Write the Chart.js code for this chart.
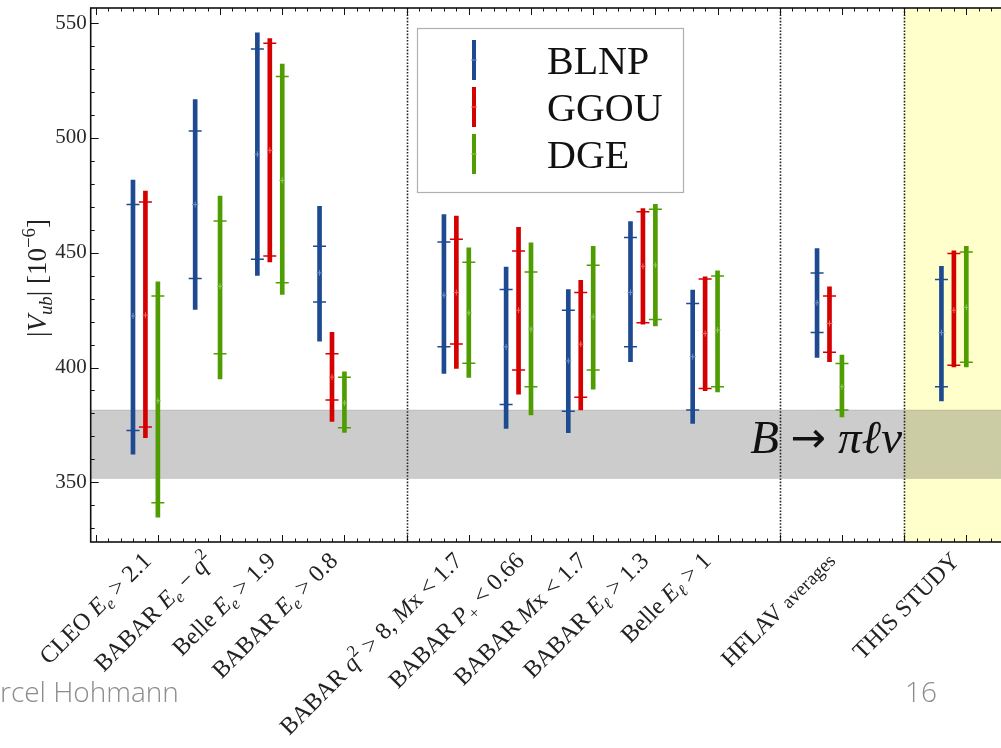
<!DOCTYPE html>
<html>
<head>
<meta charset="utf-8">
<title>|Vub| inclusive determinations</title>
<script src="https://cdn.jsdelivr.net/npm/chart.js@4.4.1/dist/chart.umd.min.js"></script>
<style>
  html, body { margin: 0; padding: 0; background: #fff; overflow: hidden; }
  #wrap { position: relative; width: 1040px; height: 748px; }
</style>
</head>
<body>
<div id="wrap"><canvas id="chart"></canvas></div>
<script>
// measurement names (TeX-ish markup, rendered by drawRich below)
const categories = [
  'CLEO $E_e>2.1$',
  'BABAR $E_e-q^2$',
  'Belle $E_e>1.9$',
  'BABAR $E_e>0.8$',
  'BABAR $q^2>8, M$x$<1.7$',
  'BABAR $P_+<0.66$',
  'BABAR $M$x$<1.7$',
  'BABAR $E_\\ell>1.3$',
  'Belle $E_\\ell>1$',
  'HFLAV \\small averages',
  'THIS STUDY'
];
// slot of each measurement on the x axis, and the group separators
const slots = [1, 2, 3, 4, 6, 7, 8, 9, 10, 12, 14];
const separators = [5, 11, 13];
const studyFrom = 13;

const methods = ['BLNP', 'GGOU', 'DGE'];

// |Vub| x 1e-6 : central value, inner error range, total error range
const blnpCentral = [422.5, 471.0, 492.9, 441.2, 431.5, 409.0, 402.9, 432.7, 404.7, 428.2, 415.2];
const blnpInner = [[372.6, 471.0], [438.8, 503.0], [447.2, 538.7], [428.5, 452.8], [409.0, 454.7], [383.9, 434.0], [381.0, 425.0], [409.0, 456.6], [381.5, 427.9], [415.2, 441.2], [391.6, 438.3]];
const blnpTotal = [[362.3, 481.6], [425.3, 516.7], [440.1, 545.8], [411.5, 470.2], [397.4, 466.6], [373.5, 443.8], [371.6, 434.0], [402.5, 463.6], [375.7, 433.7], [404.4, 451.8], [385.5, 444.1]];

const ggouCentral = [422.8, null, 494.6, 395.8, 432.7, 425.0, 410.2, 444.1, 414.8, 419.2, 425.0];
const ggouInner = [[374.1, 472.1], null, [448.6, 541.2], [385.8, 406.0], [410.2, 455.9], [398.9, 450.7], [387.0, 432.7], [419.5, 467.8], [390.9, 438.6], [406.7, 431.1], [401.0, 449.7]];
const ggouTotal = [[369.4, 476.8], null, [446.0, 543.3], [376.5, 415.3], [399.6, 466.0], [388.4, 461.1], [381.5, 438.0], [418.9, 469.2], [389.9, 439.5], [402.5, 435.1], [400.3, 450.8]];

const dgeCentral = [385.5, 435.4, 481.5, 384.6, 423.8, 416.7, 422.1, 444.6, 416.3, 391.6, 426.2];
const dgeInner = [[341.1, 431.2], [406.0, 463.8], [436.9, 526.8], [373.8, 395.8], [401.9, 445.9], [391.6, 441.6], [398.9, 444.6], [420.9, 468.9], [391.6, 439.9], [381.5, 401.8], [402.3, 450.3]];
const dgeTotal = [[334.8, 437.3], [395.0, 474.7], [431.8, 532.2], [371.7, 398.1], [395.7, 452.1], [379.3, 454.3], [390.6, 452.8], [418.1, 471.1], [389.4, 442.1], [378.5, 405.4], [400.3, 452.8]];

// exclusive B -> pi l nu band
const bandLow = 351.7;
const bandHigh = 381.5;

const centrals = [blnpCentral, ggouCentral, dgeCentral];
const inners = [blnpInner, ggouInner, dgeInner];
const totals = [blnpTotal, ggouTotal, dgeTotal];

const colors = ['#1d4a91', '#d50000', '#4f9d00'];
const markColors = ['#7590bd', '#e86a6a', '#93c65e'];
const offsets = [-0.4, -0.2, 0];

const SERIF = '"Liberation Serif", "DejaVu Serif", serif';

// tiny TeX-like parser: $..$ is math, _ and ^ for sub/superscripts
const commands = { ell: 'ℓ', pi: 'π', nu: 'ν', to: '→' };
function parseMath(s, out, pos) {
  let i = 0;
  while (i < s.length) {
    const c = s[i];
    if (c === ' ') { i++; continue; }
    if (c === '_' || c === '^') {
      i++;
      let arg;
      if (s[i] === '{') { const j = s.indexOf('}', i); arg = s.slice(i + 1, j); i = j + 1; }
      else if (s[i] === '\\') { const m = s.slice(i).match(/^\\[a-z]+/); arg = m[0]; i += arg.length; }
      else { arg = s[i]; i++; }
      parseMath(arg, out, c === '_' ? 'sub' : 'sup');
      continue;
    }
    if (c === '\\') {
      const m = s.slice(i + 1).match(/^[a-z]+/)[0];
      const t = commands[m] || m;
      if (m === 'to') {
        out.push({ t: ' ', pos }, { t, pos, family: '"DejaVu Sans", sans-serif', scale: 0.9 }, { t: ' ', pos });
      } else {
        out.push({ t, it: true, pos });
      }
      i += m.length + 1;
      continue;
    }
    if (/[A-Za-z]/.test(c)) out.push({ t: c, it: true, pos });
    else if ('<>='.includes(c)) out.push({ t: pos === 'base' ? ' ' + c + ' ' : c, pos });
    else if (c === '-') out.push({ t: pos === 'base' ? ' − ' : '−', pos });
    else if (c === ',') out.push({ t: ', ', pos });
    else out.push({ t: c, pos });
    i++;
  }
}
function parseLabel(src) {
  const out = [];
  src.split('$').forEach((p, k) => {
    if (k % 2 === 1) { parseMath(p, out, 'base'); return; }
    const s = p.indexOf('\\small ');
    if (s >= 0) {
      if (s > 0) out.push({ t: p.slice(0, s), pos: 'base' });
      out.push({ t: p.slice(s + 7), pos: 'base', scale: 0.8 });
    } else if (p) out.push({ t: p, pos: 'base' });
  });
  return out;
}
function segFont(seg, size) {
  let px = size * (seg.scale || 1);
  if (seg.pos !== 'base') px *= 0.7;
  return (seg.it ? 'italic ' : '') + px.toFixed(1) + 'px ' + (seg.family || SERIF);
}
function drawRich(ctx, src, x, y, size, align, angle, color) {
  const segs = parseLabel(src);
  let total = 0;
  segs.forEach(seg => {
    seg.f = segFont(seg, size);
    ctx.font = seg.f;
    seg.w = ctx.measureText(seg.t).width;
    total += seg.w;
  });
  ctx.save();
  ctx.translate(x, y);
  ctx.rotate(angle);
  ctx.fillStyle = color;
  ctx.textBaseline = 'alphabetic';
  ctx.textAlign = 'left';
  let cx = align === 'right' ? -total : align === 'center' ? -total / 2 : 0;
  segs.forEach(seg => {
    let dy = seg.pos === 'sub' ? size * 0.22 : seg.pos === 'sup' ? -size * 0.42 : 0;
    if (seg.family) dy -= size * 0.02;
    ctx.font = seg.f;
    ctx.fillText(seg.t, cx, dy);
    cx += seg.w;
  });
  ctx.restore();
}

// datasets: thick bar for total range, ticks for inner range, faint mark at centre
const datasets = [];
methods.forEach((name, m) => {
  const bars = [], ticks = [], marks = [];
  slots.forEach((s, i) => {
    if (totals[m][i] == null) return;
    const x = s + offsets[m];
    bars.push({ x, y: totals[m][i] });
    ticks.push({ x, y: inners[m][i][0] }, { x, y: inners[m][i][1] });
    marks.push({ x, y: centrals[m][i] });
  });
  datasets.push({
    type: 'bar', label: name, data: bars, backgroundColor: colors[m],
    barThickness: 4, grouped: false, borderWidth: 0, order: 3
  });
  datasets.push({
    type: 'scatter', label: name + ' inner', data: ticks, pointStyle: 'line',
    radius: 6.5, borderWidth: 1.5, borderColor: colors[m], order: 2
  });
  datasets.push({
    type: 'scatter', label: name + ' central', data: marks, pointStyle: 'cross',
    radius: 3, borderWidth: 1, borderColor: markColors[m], order: 1
  });
});

const decor = {
  id: 'decor',
  beforeDatasetsDraw(chart) {
    const { ctx, chartArea: a, scales: { x, y } } = chart;
    ctx.save();
    // yellow region for this study
    const xs = x.getPixelForValue(studyFrom);
    ctx.fillStyle = 'rgba(255,255,0,0.2)';
    ctx.fillRect(xs, a.top, a.right - xs, a.bottom - a.top);
    // exclusive band
    const y1 = y.getPixelForValue(bandHigh), y2 = y.getPixelForValue(bandLow);
    ctx.fillStyle = 'rgba(0,0,0,0.2)';
    ctx.fillRect(a.left, y1, a.right - a.left, y2 - y1);
    ctx.strokeStyle = 'rgba(0,0,0,0.12)';
    ctx.lineWidth = 1;
    ctx.beginPath();
    ctx.moveTo(a.left, y1); ctx.lineTo(a.right, y1);
    ctx.moveTo(a.left, y2); ctx.lineTo(a.right, y2);
    ctx.stroke();
    // group separators
    ctx.strokeStyle = '#222';
    ctx.lineWidth = 1.6;
    ctx.setLineDash([1.6, 1.6]);
    separators.forEach(v => {
      const px = Math.round(x.getPixelForValue(v)) + 0.5;
      ctx.beginPath();
      ctx.moveTo(px, a.top); ctx.lineTo(px, a.bottom);
      ctx.stroke();
    });
    ctx.restore();
  },
  afterDatasetsDraw(chart) {
    const { ctx, chartArea: a, scales: { x, y } } = chart;
    ctx.save();

    drawRich(ctx, '$B\\to\\pi\\ell\\nu$', 902, 453, 47, 'right', 0, '#111');

    // frame
    ctx.strokeStyle = '#111';
    ctx.lineWidth = 1.6;
    ctx.strokeRect(a.left, a.top, a.right - a.left, a.bottom - a.top);

    // inward ticks
    ctx.lineWidth = 1;
    ctx.beginPath();
    for (let k = Math.ceil(x.min * 5); k <= Math.floor(x.max * 5); k++) {
      const px = Math.round(x.getPixelForValue(k / 5)) + 0.5;
      const len = k % 5 === 0 ? 7 : 3.5;
      ctx.moveTo(px, a.bottom); ctx.lineTo(px, a.bottom - len);
      ctx.moveTo(px, a.top); ctx.lineTo(px, a.top + len);
    }
    y.ticks.forEach(t => {
      const py = Math.round(y.getPixelForValue(t.value)) + 0.5;
      const len = t.value % 50 === 0 ? 8 : 4;
      ctx.moveTo(a.left, py); ctx.lineTo(a.left + len, py);
      ctx.moveTo(a.right, py); ctx.lineTo(a.right - len, py);
    });
    ctx.stroke();

    // legend
    const lx = 417, ly = 28, lw = 266, lh = 164;
    ctx.fillStyle = '#fff';
    ctx.fillRect(lx, ly, lw, lh);
    ctx.strokeStyle = '#b0b0b0';
    ctx.lineWidth = 1.2;
    ctx.strokeRect(lx + 0.5, ly + 0.5, lw, lh);
    methods.forEach((name, m) => {
      const cy = 60 + m * 47;
      ctx.strokeStyle = colors[m];
      ctx.lineWidth = 4;
      ctx.beginPath();
      ctx.moveTo(474, cy - 20); ctx.lineTo(474, cy + 20);
      ctx.stroke();
      ctx.strokeStyle = markColors[m];
      ctx.lineWidth = 1;
      ctx.beginPath();
      ctx.moveTo(471, cy); ctx.lineTo(477, cy);
      ctx.stroke();
      ctx.fillStyle = '#111';
      ctx.font = '40px ' + SERIF;
      ctx.textAlign = 'left';
      ctx.textBaseline = 'alphabetic';
      ctx.fillText(name, 547, cy + 13.5);
    });

    // rotated category labels
    categories.forEach((c, i) => {
      const px = x.getPixelForValue(slots[i] - 0.2) + 7;
      drawRich(ctx, c, px, 562, 24, 'right', -Math.PI / 4, '#222');
    });

    // y axis title
    drawRich(ctx, '$|V_{ub}|$ $[10^{-6}]$', 46, 278, 27, 'center', -Math.PI / 2, '#222');

    // slide footer
    ctx.fillStyle = '#8c8c8c';
    ctx.font = '300 28px "Open Sans", "Noto Sans", sans-serif';
    ctx.textAlign = 'left';
    ctx.textBaseline = 'alphabetic';
    ctx.fillText('rcel Hohmann', 0, 702);
    ctx.fillText('16', 905, 702);
    ctx.restore();
  }
};

new Chart(document.getElementById('chart'), {
  type: 'bar',
  data: { datasets },
  options: {
    responsive: true,
    maintainAspectRatio: false,
    animation: false,
    events: [],
    layout: { padding: { left: 0, right: 11.5, top: 7.5, bottom: 0 } },
    plugins: { legend: { display: false }, tooltip: { enabled: false } },
    scales: {
      x: {
        type: 'linear', min: -0.08, max: 15, offset: false,
        grid: { display: false, drawTicks: false }, border: { display: false },
        ticks: { display: false },
        afterFit(s) { s.height = 206; s.paddingLeft = 0; s.paddingRight = 0; }
      },
      y: {
        type: 'linear', min: 324, max: 556.6,
        grid: { display: false, drawTicks: false }, border: { display: false },
        ticks: {
          stepSize: 10, includeBounds: false, autoSkip: false, padding: 4, color: '#2a2a2a',
          font: { family: SERIF, size: 21 },
          callback: v => (v % 50 === 0 ? v : '')
        },
        afterFit(s) { s.width = 90.7; s.paddingTop = 0; s.paddingBottom = 0; }
      }
    }
  },
  plugins: [decor]
});
</script>
</body>
</html>
